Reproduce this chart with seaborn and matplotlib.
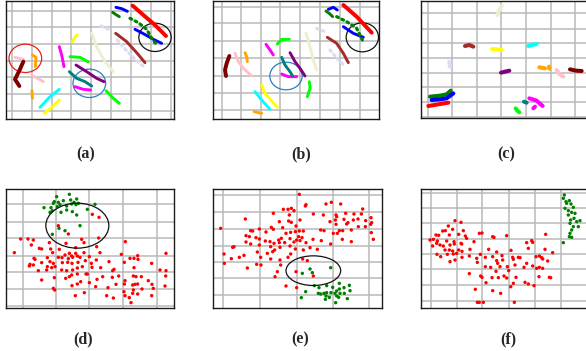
import matplotlib
matplotlib.use("Agg")
import matplotlib.pyplot as plt
from matplotlib.patches import Ellipse
import seaborn as sns
import pandas as pd

# ---------------------------------------------------------------------------
# Class colours (one colour per identity class)
# ---------------------------------------------------------------------------
PALETTE = {
    "red": "#ff0000", "blue": "#0000ff", "green": "#008000", "brown": "#a52a2a",
    "lavender": "#dcdcf4", "beige": "#efedcf", "yellow": "#ffff00",
    "magenta": "#ff00ff", "lime": "#00ff00", "purple": "#800080",
    "teal": "#008080", "cyan": "#00ffff", "orange": "#ffa500",
    "pink": "#ffc0cb", "maroon": "#800000",
}

# ---------------------------------------------------------------------------
# Embedding trajectories, panels (a)-(c): (class, x values, y values)
# ---------------------------------------------------------------------------
TRACKS_A = [
    ("red", [398, 430, 465, 498], [17, 45, 75, 108]),
    ("blue", [348, 365, 382], [22, 26, 34]),
    ("blue", [405, 432, 460, 485], [88, 102, 118, 130]),
    ("green", [338, 348, 358], [37, 44, 50]),
    ("brown", [347, 380, 410, 435], [100, 125, 158, 188]),
    ("beige", [275, 290, 315, 340], [100, 140, 185, 215]),
    ("yellow", [216, 225, 232], [125, 112, 104]),
    ("yellow", [133, 152, 178], [340, 325, 300]),
    ("magenta", [178, 185, 192], [140, 165, 200]),
    ("magenta", [225, 250, 272], [260, 268, 270]),
    ("lime", [210, 240, 265], [170, 172, 186]),
    ("lime", [318, 340, 358], [272, 295, 310]),
    ("purple", [228, 260, 290, 312], [195, 215, 235, 245]),
    ("teal", [208, 230, 255, 275], [215, 235, 245, 258]),
    ("cyan", [120, 150, 178], [322, 290, 268]),
    ("orange", [97, 108, 106], [165, 172, 200]),
    ("orange", [96, 97], [272, 295]),
    ("pink", [45, 70], [172, 178]),
    ("pink", [95, 130], [225, 245]),
    ("maroon", [70, 58, 45, 58], [185, 212, 238, 258]),
]
SPARSE_A = [
    ("green", [390, 415, 440, 455, 472], [55, 68, 88, 115, 137]),
    ("lavender", [303, 330], [78, 90]),
    ("lavender", [352, 378, 405, 432], [120, 150, 178, 200]),
]

TRACKS_B = [
    ("red", [430, 470, 515], [15, 50, 98]),
    ("blue", [385, 400, 412], [28, 22, 30]),
    ("blue", [430, 460, 490], [80, 100, 112]),
    ("green", [378, 390, 398], [33, 42, 50]),
    ("brown", [382, 410, 430, 445], [112, 130, 160, 188]),
    ("beige", [318, 330, 340, 350], [100, 140, 180, 210]),
    ("lime", [232, 245, 268], [132, 118, 118]),
    ("lime", [328, 330, 322], [245, 265, 290]),
    ("magenta", [198, 210, 220], [133, 150, 165]),
    ("magenta", [245, 265, 290], [222, 230, 230]),
    ("teal", [245, 255, 270, 278], [172, 195, 215, 228]),
    ("purple", [270, 285, 300, 315], [158, 185, 205, 228]),
    ("maroon", [88, 80, 75, 78], [168, 190, 210, 228]),
    ("pink", [105, 115, 130, 155], [160, 185, 205, 228]),
    ("orange", [135, 140, 142], [158, 170, 185]),
    ("orange", [162, 185], [335, 340]),
    ("cyan", [165, 185, 210], [275, 300, 328]),
    ("yellow", [185, 195, 212, 232], [255, 280, 300, 322]),
]
SPARSE_B = [
    ("green", [410, 440, 470, 487], [50, 65, 85, 120]),
    ("lavender", [350, 375], [85, 95]),
    ("lavender", [390, 415, 437], [150, 180, 200]),
]

TRACKS_C = [
    ("beige", [292, 298, 305], [45, 30, 18]),
    ("brown", [195, 208, 220], [138, 135, 140]),
    ("yellow", [276, 290, 305], [147, 148, 150]),
    ("cyan", [385, 398, 410], [138, 135, 132]),
    ("lavender", [148, 150], [185, 200]),
    ("purple", [303, 315, 328], [218, 215, 212]),
    ("orange", [418, 435], [202, 205]),
    ("orange", [447, 448], [200, 206]),
    ("pink", [470, 478, 490], [210, 222, 230]),
    ("maroon", [510, 528, 545], [208, 212, 213]),
    ("green", [90, 120, 140, 152], [290, 287, 283, 272]),
    ("blue", [95, 120, 140, 160], [300, 298, 295, 280]),
    ("red", [85, 115, 145], [318, 313, 308]),
    ("lime", [347, 352, 358], [325, 332, 337]),
    ("teal", [372, 380], [305, 308]),
    ("magenta", [388, 410, 428], [295, 302, 318]),
    ("magenta", [400, 405], [325, 320]),
]

# ---------------------------------------------------------------------------
# Two-class embeddings, panels (d)-(f): (x, y) per sample
# ---------------------------------------------------------------------------
D_GREEN = [(208, 73), (170, 80), (190, 92), (163, 95), (175, 97), (212, 90), (230, 87),
           (222, 97), (180, 104), (228, 104), (200, 108), (215, 102), (132, 113), (153, 113),
           (172, 110), (157, 122), (183, 127), (217, 125), (200, 120), (230, 135), (262, 118),
           (285, 103), (177, 175), (195, 182), (157, 193), (240, 167), (150, 127), (160, 100),
           (235, 100)]
D_RED = [(277, 133), (297, 142), (175, 167), (205, 192), (245, 208), (252, 218), (296, 204),
         (62, 207), (84, 207), (100, 210), (94, 225), (148, 218), (198, 220), (376, 215),
         (118, 235), (125, 237), (152, 237), (178, 238), (227, 233), (290, 230), (43, 248),
         (158, 248), (208, 250), (227, 250), (252, 248), (300, 248), (498, 250), (364, 253),
         (413, 257), (195, 255), (215, 258), (232, 258), (268, 260), (102, 265), (105, 268),
         (142, 263), (175, 262), (186, 263), (205, 266), (218, 262), (240, 262), (390, 265),
         (402, 265), (414, 268), (90, 283), (88, 288), (100, 285), (125, 278), (150, 275),
         (160, 280), (187, 278), (203, 277), (216, 280), (234, 277), (256, 272), (274, 280),
         (289, 270), (327, 275), (373, 277), (455, 280), (115, 302), (142, 290), (155, 293),
         (165, 290), (140, 300), (185, 300), (200, 302), (218, 300), (232, 294), (247, 290),
         (276, 292), (302, 293), (338, 302), (342, 298), (402, 293), (480, 300), (498, 302),
         (125, 330), (163, 323), (197, 325), (208, 320), (215, 315), (232, 312), (262, 312),
         (291, 328), (308, 320), (337, 322), (356, 318), (375, 332), (400, 318), (408, 320),
         (424, 320), (445, 332), (497, 318), (258, 312), (242, 335), (216, 347), (232, 342),
         (268, 338), (287, 350), (324, 353), (348, 343), (373, 342), (398, 345), (405, 343),
         (413, 342), (456, 343), (495, 348), (160, 355), (164, 360), (253, 368), (226, 377),
         (320, 377), (340, 384), (372, 365), (375, 377), (400, 360), (398, 370), (413, 372),
         (426, 357), (455, 377), (388, 383), (393, 398), (460, 355)]

E_GREEN = [(307, 310), (330, 297), (337, 308), (392, 293), (343, 347), (357, 353), (380, 347),
           (398, 352), (418, 340), (432, 353), (448, 346), (418, 357), (410, 363), (450, 362),
           (355, 370), (362, 372), (372, 370), (380, 368), (393, 368), (405, 370), (420, 370),
           (433, 370), (378, 378), (388, 382), (410, 378), (416, 382), (442, 386), (376, 388),
           (407, 398), (304, 383), (317, 365)]
E_RED = [(298, 73), (316, 108), (318, 104), (378, 102), (394, 97), (422, 102), (488, 117),
         (250, 118), (264, 118), (274, 115), (282, 122), (220, 130), (268, 135), (340, 132),
         (370, 135), (408, 135), (410, 140), (437, 130), (462, 132), (484, 132), (136, 147),
         (238, 155), (266, 153), (274, 157), (300, 150), (390, 155), (406, 150), (432, 148),
         (444, 158), (460, 150), (474, 147), (497, 152), (513, 143), (515, 158), (214, 172),
         (288, 168), (512, 163), (440, 162), (496, 170), (475, 170), (408, 163), (62, 175),
         (152, 182), (158, 183), (178, 177), (198, 186), (220, 178), (248, 173), (258, 190),
         (272, 187), (286, 185), (298, 183), (310, 183), (362, 180), (372, 182), (428, 182),
         (412, 190), (400, 190), (418, 182), (454, 180), (514, 188), (138, 197), (148, 200),
         (168, 203), (178, 207), (196, 213), (236, 210), (244, 205), (270, 206), (296, 200),
         (306, 203), (339, 208), (364, 212), (392, 222), (427, 208), (454, 215), (520, 208),
         (138, 216), (152, 222), (178, 225), (210, 215), (222, 220), (238, 218), (254, 218),
         (282, 216), (290, 210), (300, 212), (318, 218), (102, 230), (98, 232), (212, 230),
         (240, 232), (270, 228), (286, 237), (310, 240), (330, 233), (352, 238), (172, 246),
         (202, 250), (218, 245), (224, 240), (72, 252), (132, 256), (118, 262), (94, 266),
         (182, 262), (212, 267), (240, 270), (272, 252), (264, 262), (308, 267), (322, 272),
         (73, 280), (170, 283), (183, 285), (242, 285), (142, 294), (232, 305), (288, 305),
         (340, 318), (225, 320), (258, 348), (290, 353)]

F_GREEN = [(493, 75), (490, 85), (498, 95), (508, 92), (513, 102), (520, 112), (495, 115),
           (505, 122), (515, 127), (525, 130), (522, 145), (512, 150), (530, 155), (540, 152),
           (535, 170), (520, 170), (510, 160), (515, 180), (510, 190), (508, 200), (515, 202),
           (490, 218), (500, 100), (505, 135)]
F_RED = [(165, 152), (183, 157), (145, 168), (158, 178), (128, 183), (136, 182), (190, 182),
         (108, 195), (116, 196), (148, 195), (176, 193), (196, 198), (238, 190), (246, 189),
         (278, 200), (282, 202), (320, 197), (437, 193), (90, 210), (100, 208), (112, 213),
         (140, 213), (162, 215), (183, 220), (200, 205), (222, 215), (380, 218), (395, 212),
         (398, 217), (98, 228), (110, 220), (120, 225), (130, 228), (150, 225), (163, 222),
         (185, 222), (135, 240), (148, 240), (158, 243), (176, 240), (186, 244), (210, 238),
         (266, 238), (290, 246), (333, 241), (385, 235), (435, 238), (458, 248), (111, 253),
         (122, 260), (142, 253), (160, 252), (170, 250), (186, 262), (208, 258), (241, 253),
         (256, 262), (230, 265), (278, 260), (306, 257), (338, 262), (355, 262), (308, 270),
         (290, 272), (340, 268), (360, 263), (408, 260), (418, 258), (425, 263), (428, 267),
         (150, 275), (165, 270), (232, 277), (293, 280), (300, 290), (322, 290), (345, 285),
         (380, 280), (372, 292), (398, 288), (410, 295), (418, 292), (428, 295), (443, 273),
         (256, 290), (272, 292), (288, 304), (326, 302), (208, 311), (242, 318), (246, 322),
         (276, 323), (295, 323), (312, 318), (320, 324), (348, 322), (417, 320), (448, 322),
         (452, 323), (258, 338), (340, 340), (375, 337), (385, 342), (402, 347), (332, 350),
         (226, 358), (278, 362), (302, 370), (232, 397), (238, 397), (250, 397), (343, 397)]

PANEL_LABELS = ["(a)", "(b)", "(c)", "(d)", "(e)", "(f)"]

# ---------------------------------------------------------------------------
# Figure layout
# ---------------------------------------------------------------------------
sns.set_style("white")
W, H = 586, 351
fig = plt.figure(figsize=(W / 100, H / 100), dpi=100)


def add_panel(left, top, right, bottom, xlim, ylim, xgrid, ygrid):
    ax = fig.add_axes([left / W, 1 - bottom / H, (right - left) / W, (bottom - top) / H])
    ax.set_xlim(*xlim)
    ax.set_ylim(*ylim)
    ax.set_xticks(xgrid)
    ax.set_yticks(ygrid)
    ax.set_xticklabels([])
    ax.set_yticklabels([])
    ax.tick_params(length=0)
    ax.set_axisbelow(True)
    ax.grid(True, color="#b9b9b9", linewidth=1.1)
    for sp in ax.spines.values():
        sp.set_color("#1a1a1a")
        sp.set_linewidth(1.0)
        sp.set_visible(True)
    ax.set_xlabel("")
    ax.set_ylabel("")
    return ax


def draw_tracks(ax, tracks, lw, thick=1.35, dotted=False):
    for cls, xs, ys in tracks:
        w = lw * (thick if cls in ("red", "maroon") else 1.0)
        kws = dict(solid_capstyle="round", dash_capstyle="round")
        if dotted:
            kws["linestyle"] = (0, (0.6, 1.2))
        sns.lineplot(x=xs, y=ys, sort=False, estimator=None, color=PALETTE[cls],
                     linewidth=w, ax=ax, legend=False, **kws)
    ax.set_xlabel("")
    ax.set_ylabel("")


def draw_scatter(ax, red, green):
    df = pd.DataFrame(
        [(x, y, "other") for x, y in red] + [(x, y, "target") for x, y in green],
        columns=["x", "y", "group"])
    sns.scatterplot(data=df, x="x", y="y", hue="group",
                    palette={"other": "#ff0000", "target": "#008000"},
                    s=6, linewidth=0, legend=False, ax=ax)
    ax.set_xlabel("")
    ax.set_ylabel("")


def ring(ax, cx, cy, w, h, color):
    ax.add_patch(Ellipse((cx, cy), w, h, fill=False, edgecolor=color, linewidth=0.9))


# (a)
ax_a = add_panel(6, 1, 174, 119, (18, 522), (357, 3),
                 [35, 95, 155, 213, 272, 332, 392, 452, 512], [33, 82, 132, 182, 232, 283, 333])
draw_tracks(ax_a, TRACKS_A, 2.1)
draw_tracks(ax_a, SPARSE_A, 2.3, dotted=True)
ring(ax_a, 76, 175, 98, 85, "#e8211c")
ring(ax_a, 268, 250, 98, 85, "#2a7fc4")
ring(ax_a, 465, 112, 97, 85, "#111111")

# (b)
ax_b = add_panel(213, 1, 379, 119, (39, 537), (357, 3),
                 [65, 123, 183, 241, 300, 360, 420, 480], [20, 70, 122, 175, 227, 278, 330])
draw_tracks(ax_b, TRACKS_B, 2.1)
draw_tracks(ax_b, SPARSE_B, 2.3, dotted=True)
ring(ax_b, 258, 228, 97, 83, "#2a7fc4")
ring(ax_b, 487, 112, 97, 87, "#111111")

# (c)
ax_c = add_panel(421, 1, 600, 118, (63, 600), (354, 3),
                 [83, 157, 230, 303, 377, 452, 525, 598], [40, 87, 130, 173, 218, 262, 305, 350])
draw_tracks(ax_c, TRACKS_C, 2.9, thick=1.0)

# (d)
ax_d = add_panel(6, 189, 174, 308, (18, 522), (414, 57),
                 [68, 167, 268, 370, 470], [103, 155, 205, 257, 307, 357, 407])
draw_scatter(ax_d, D_RED, D_GREEN)
ring(ax_d, 232, 167, 189, 135, "#111111")

# (e)
ax_e = add_panel(213, 189, 382, 308, (39, 546), (414, 57),
                 [70, 180, 290, 398, 508], [75, 127, 177, 227, 277, 325, 375])
draw_scatter(ax_e, E_RED, E_GREEN)
ring(ax_e, 340, 302, 164, 89, "#111111")

# (f)
ax_f = add_panel(421, 189, 600, 308, (63, 600), (414, 57),
                 [92, 170, 247, 326, 404, 482, 560], [68, 113, 160, 207, 253, 298, 345, 392])
draw_scatter(ax_f, F_RED, F_GREEN)

# Panel captions
label_pos = [(86, 154), (301, 154), (506, 154), (83, 339), (300, 339), (508, 339)]
for text, (px, py) in zip(PANEL_LABELS, label_pos):
    fig.text(px / W, 1 - py / H, text, ha="center", va="center",
             fontsize=11.5, fontweight="bold", family=["Liberation Serif", "DejaVu Serif"])

fig.savefig("out.png", dpi=100)
